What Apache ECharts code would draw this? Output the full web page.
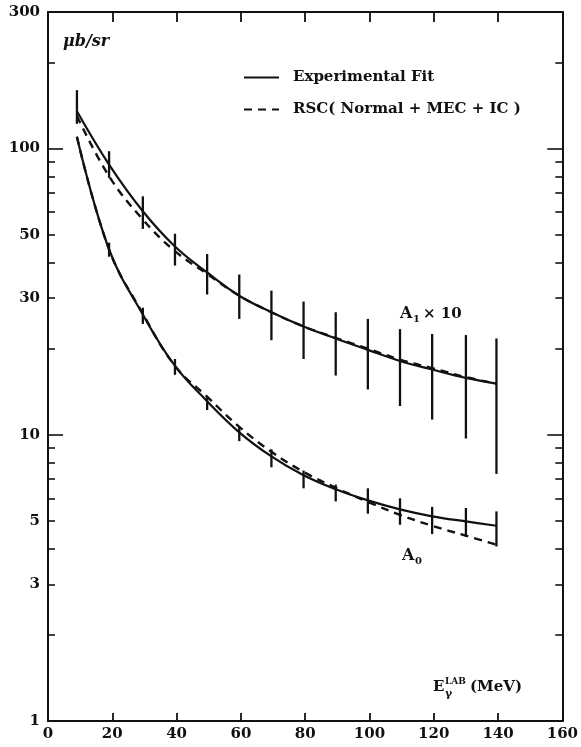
<!DOCTYPE html>
<html><head><meta charset="utf-8">
<script src="https://cdn.jsdelivr.net/npm/echarts@6/dist/echarts.min.js"></script>
<style>html,body{margin:0;padding:0;background:#fff}#c{width:581px;height:747px}</style>
</head><body><div id="c"></div>
<script>
// photon lab energies (MeV)
const energies = [9, 19, 29.5, 39.5, 49.5, 59.5, 69.5, 79.5, 89.5, 99.5, 109.5, 119.5, 130, 139.5];
// A1 x 10 (μb/sr)
const a1Fit = [135.0, 87.9, 60.4, 45.5, 36.9, 30.6, 26.8, 23.9, 21.7, 19.8, 18.1, 16.9, 15.8, 15.1];
const a1Rsc = [130.0, 80.0, 56.5, 43.8, 36.5, 30.6, 26.8, 23.9, 21.8, 20.0, 18.3, 17.1, 15.9, 15.1];
const a1Low = [122, 79.0, 52.4, 39.0, 30.9, 25.4, 21.4, 18.4, 16.1, 14.4, 12.6, 11.3, 9.7, 7.3];
const a1High = [160, 97.9, 68.1, 50.4, 42.8, 36.3, 31.9, 29.2, 26.8, 25.4, 23.4, 22.5, 22.3, 21.7];
// A0 (μb/sr)
const a0Fit = [109.9, 44.4, 26.3, 17.4, 13.1, 10.2, 8.4, 7.22, 6.45, 5.9, 5.49, 5.19, 4.98, 4.81];
const a0Rsc = [109.9, 44.4, 26.5, 17.4, 13.58, 10.66, 8.72, 7.42, 6.53, 5.83, 5.25, 4.81, 4.44, 4.13];
const a0Low = [null, 41.9, 24.4, 16.2, 12.2, 9.5, 7.7, 6.5, 5.85, 5.3, 4.85, 4.5, 4.4, 4.07];
const a0High = [null, 46.9, 27.8, 18.4, 13.5, 10.7, 8.9, 7.5, 6.7, 6.5, 6.0, 5.6, 5.55, 5.4];
// axis ticks
const yLabelValues = [1, 3, 5, 10, 30, 50, 100, 300];
const yMajorTicks = [10, 100];
const yMinorTicks = [2, 3, 4, 5, 6, 7, 8, 9, 20, 30, 40, 50, 60, 70, 80, 90, 200];

const FONT = 'DejaVu Serif';
const INK = '#111';

function pairs(xs, ys) { return xs.map((x, i) => [x, ys[i]]); }
function bars(xs, lo, hi) {
  const out = [];
  xs.forEach((x, i) => { if (lo[i] != null && hi[i] != null) out.push([x, lo[i], hi[i]]); });
  return out;
}
function errRender(params, api) {
  const x = api.value(0);
  const p1 = api.coord([x, api.value(1)]);
  const p2 = api.coord([x, api.value(2)]);
  return { type: 'line', shape: { x1: p1[0], y1: p1[1], x2: p2[0], y2: p2[1] },
    style: { stroke: INK, lineWidth: 2.3 } };
}
function yAxisDef(pos, ticks, len, withLine, labels) {
  return {
    type: 'log', logBase: 10, min: 1, max: 300, position: pos,
    axisLine: { show: withLine, lineStyle: { color: INK, width: 2 } },
    axisTick: { show: true, inside: true, length: len, customValues: ticks, lineStyle: { color: INK, width: 1.6 } },
    axisLabel: labels ? { show: true, customValues: labels, color: INK, fontFamily: FONT, fontWeight: 'bold', fontSize: 15, margin: 8 } : { show: false },
    splitLine: { show: false }, minorTick: { show: false }, minorSplitLine: { show: false }
  };
}
const xCommon = {
  type: 'value', min: 0, max: 160, interval: 20,
  axisLine: { show: true, lineStyle: { color: INK, width: 2 } },
  splitLine: { show: false }
};

const chart = echarts.init(document.getElementById('c'), null, { renderer: 'canvas' });
chart.setOption({
  backgroundColor: '#fff',
  animation: false,
  grid: { left: 48, right: 18, top: 12, bottom: 26, containLabel: false },
  xAxis: [
    Object.assign({}, xCommon, { position: 'bottom',
      axisTick: { inside: true, length: 8, lineStyle: { color: INK, width: 1.8 } },
      axisLabel: { color: INK, fontFamily: FONT, fontWeight: 'bold', fontSize: 15, margin: 6 } }),
    Object.assign({}, xCommon, { position: 'top',
      axisTick: { inside: true, length: 10, lineStyle: { color: INK, width: 1.8 } },
      axisLabel: { show: false } })
  ],
  yAxis: [
    yAxisDef('left', yMinorTicks, 7, true, yLabelValues),
    yAxisDef('left', yMajorTicks, 15, false, null),
    yAxisDef('right', yMinorTicks, 7, true, null),
    yAxisDef('right', yMajorTicks, 15, false, null)
  ],
  legend: {
    data: ['Experimental Fit', 'RSC( Normal + MEC + IC )'],
    orient: 'vertical', left: 238, top: 65, itemWidth: 35, itemHeight: 12, itemGap: 17,
    itemStyle: { opacity: 0 },
    textStyle: { color: INK, fontFamily: FONT, fontWeight: 'bold', fontSize: 15, padding: [0, 0, 0, 9] },
    selectedMode: false
  },
  series: [
    { name: 'Experimental Fit', type: 'line', data: pairs(energies, a1Fit), smooth: 0.4, symbol: 'none',
      lineStyle: { color: INK, width: 2.2 }, itemStyle: { color: INK }, z: 3 },
    { name: 'RSC( Normal + MEC + IC )', type: 'line', data: pairs(energies, a1Rsc), smooth: 0.4, symbol: 'none',
      lineStyle: { color: INK, width: 2.4, type: [8, 6] }, itemStyle: { color: INK }, z: 3 },
    { name: 'Experimental Fit', type: 'line', data: pairs(energies, a0Fit), smooth: 0.4, symbol: 'none',
      lineStyle: { color: INK, width: 2.2 }, itemStyle: { color: INK }, z: 3 },
    { name: 'RSC( Normal + MEC + IC )', type: 'line', data: pairs(energies, a0Rsc), smooth: 0.4, symbol: 'none',
      lineStyle: { color: INK, width: 2.4, type: [8, 6] }, itemStyle: { color: INK }, z: 3 },
    { name: 'A1 errors', type: 'custom', renderItem: errRender, data: bars(energies, a1Low, a1High),
      encode: { x: 0, y: [1, 2] }, z: 4 },
    { name: 'A0 errors', type: 'custom', renderItem: errRender, data: bars(energies, a0Low, a0High),
      encode: { x: 0, y: [1, 2] }, z: 4 }
  ],
  graphic: [
    { type: 'text', left: 63, top: 34, style: { text: 'μb/sr', fill: INK, font: 'italic bold 16px "DejaVu Serif"' } },
    { type: 'text', left: 400, top: 306, style: { text: 'A', fill: INK, font: 'bold 16px "DejaVu Serif"' } },
    { type: 'text', left: 413, top: 314, style: { text: '1', fill: INK, font: 'bold 10px "DejaVu Serif"' } },
    { type: 'text', left: 423, top: 307, style: { text: '× 10', fill: INK, font: 'bold 15px "DejaVu Serif"' } },
    { type: 'text', left: 402, top: 548, style: { text: 'A', fill: INK, font: 'bold 16px "DejaVu Serif"' } },
    { type: 'text', left: 415, top: 556, style: { text: '0', fill: INK, font: 'bold 10px "DejaVu Serif"' } },
    { type: 'text', left: 433, top: 680, style: { text: 'E', fill: INK, font: 'bold 15px "DejaVu Serif"' } },
    { type: 'text', left: 445, top: 677, style: { text: 'LAB', fill: INK, font: 'bold 9px "DejaVu Serif"' } },
    { type: 'text', left: 445, top: 689, style: { text: 'γ', fill: INK, font: 'bold 11px "DejaVu Serif"' } },
    { type: 'text', left: 470, top: 680, style: { text: '(MeV)', fill: INK, font: 'bold 15px "DejaVu Serif"' } }
  ]
});
</script>
</body></html>
